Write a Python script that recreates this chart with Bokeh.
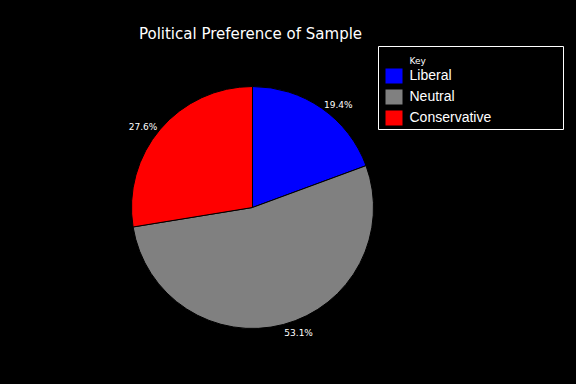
import numpy as np
from bokeh.plotting import figure
from bokeh.models import ColumnDataSource, Range1d
from bokeh.core.properties import value
from bokeh.embed import file_html
from bokeh.resources import INLINE

# ---- data ----
categories = ["Liberal", "Neutral", "Conservative"]
percents = [19.4, 53.1, 27.6]
colors = ["#0000FF", "#808080", "#FF0000"]
pct_labels = ["19.4%", "53.1%", "27.6%"]
title_text = "Political Preference of Sample"
legend_title = "Key"

# ---- layout (pixel-like data units, y measured up from bottom) ----
W, H = 568, 368
CX, CY, R = 252, H - 207, 121
LABEL_R = 125

p = figure(width=W, height=H, x_range=Range1d(0, W), y_range=Range1d(0, H),
           output_backend="svg", toolbar_location=None, min_border=0,
           x_axis_location=None, y_axis_location=None)
p.grid.visible = False
p.background_fill_color = "black"
p.border_fill_color = "black"
p.outline_line_color = None

frac = np.array(percents) / sum(percents)
cum = np.concatenate([[0.0], np.cumsum(frac)])
start = np.pi / 2 - 2 * np.pi * cum[:-1]
end = np.pi / 2 - 2 * np.pi * cum[1:]
mid = (start + end) / 2

src = ColumnDataSource(dict(cat=categories, start=start, end=end, color=colors))
p.wedge(x=CX, y=CY, radius=R, start_angle="start", end_angle="end",
        direction="clock", fill_color="color", line_color="black",
        line_width=1, source=src)

lx = CX + LABEL_R * np.cos(mid)
ly = CY + LABEL_R * np.sin(mid)
align = ["left" if c >= 0 else "right" for c in np.cos(mid)]
base = ["alphabetic" if s > 0 else "top" for s in np.sin(mid)]
lsrc = ColumnDataSource(dict(x=lx, y=ly, t=pct_labels, a=align, b=base))
p.text(x="x", y="y", text="t", text_align="a", text_baseline="b",
       text_color="white", text_font=value("DejaVu Sans"),
       text_font_size="9px", source=lsrc)

# title
p.text(x=[CX - 2], y=[H - 33], text=[title_text], text_align="center",
       text_baseline="alphabetic", text_color="white",
       text_font=value("DejaVu Sans"), text_font_size="15px")

# legend (manual)
BX0, BX1, BY0, BY1 = 378, 563, H - 129, H - 46
p.quad(left=[BX0], right=[BX1], bottom=[BY0], top=[BY1],
       fill_color=None, line_color="white", line_width=1)
p.text(x=[BX0 + 31], y=[BY1 - 14], text=[legend_title], text_align="left",
       text_baseline="alphabetic", text_color="white",
       text_font=value("DejaVu Sans"), text_font_size="9px")
n = len(categories)
tops = np.array([BY1 - 22 - 21 * i for i in range(n)], dtype=float)
bots = tops - 15
p.quad(left=[BX0 + 7] * n, right=[BX0 + 24] * n, top=tops, bottom=bots,
       fill_color=colors, line_color=None)
p.text(x=[BX0 + 31] * n, y=(tops + bots) / 2 + 1, text=categories,
       text_align="left", text_baseline="middle", text_color="white",
       text_font=value("Liberation Sans"), text_font_size="14px")

html = file_html(p, INLINE)
html = html.replace("</head>", "<style>html,body{background:#000000;}</style></head>", 1)
open("out.html", "w").write(html)
